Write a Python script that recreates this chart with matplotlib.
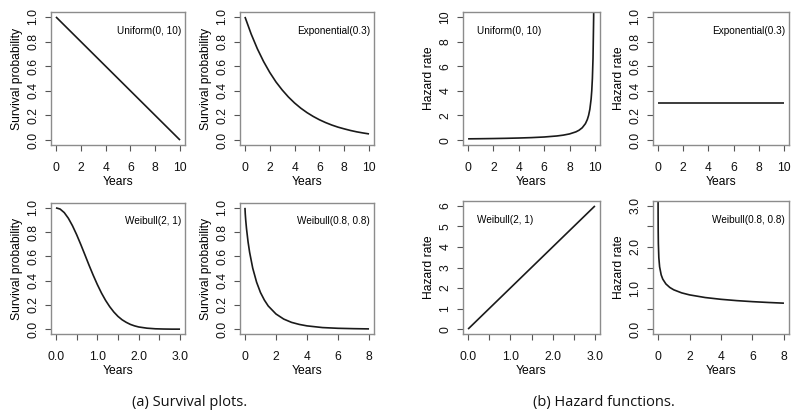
import matplotlib
matplotlib.use("Agg")
import matplotlib.pyplot as plt
import numpy as np

# ---------------- data ----------------
# Survival: Uniform(0, 10)
su_x = [0, 10]
su_y = [1.0, 0.0]
# Survival: Exponential(0.3)
se_x = [0, 0.5, 1, 1.5, 2, 2.5, 3, 3.5, 4, 4.5, 5, 5.5, 6, 6.5, 7, 7.5, 8, 8.5, 9, 9.5, 10]
se_y = [1.0, 0.861, 0.741, 0.638, 0.549, 0.472, 0.407, 0.350, 0.301, 0.259, 0.223,
        0.192, 0.165, 0.142, 0.122, 0.105, 0.091, 0.078, 0.067, 0.058, 0.050]
# Survival: Weibull(2, 1)
sw1_x = [0, 0.1, 0.2, 0.3, 0.4, 0.5, 0.6, 0.7, 0.8, 0.9, 1.0, 1.1, 1.2, 1.3, 1.4, 1.5,
         1.6, 1.7, 1.8, 1.9, 2.0, 2.2, 2.4, 2.6, 2.8, 3.0]
sw1_y = [1.0, 0.990, 0.961, 0.914, 0.852, 0.779, 0.698, 0.613, 0.527, 0.445, 0.368,
         0.298, 0.237, 0.185, 0.141, 0.105, 0.077, 0.056, 0.039, 0.027, 0.018, 0.008,
         0.003, 0.001, 0.0, 0.0]
# Survival: Weibull(0.8, 0.8)
sw2_x = [0, 0.02, 0.05, 0.1, 0.2, 0.3, 0.5, 0.75, 1.0, 1.25, 1.5, 2, 2.5, 3, 3.5, 4, 5, 6, 7, 8]
sw2_y = [1.0, 0.949, 0.897, 0.828, 0.719, 0.634, 0.503, 0.387, 0.302, 0.240, 0.191,
         0.125, 0.083, 0.056, 0.039, 0.027, 0.013, 0.007, 0.004, 0.002]

# Hazard: Uniform(0, 10)
hu_x = [0, 1, 2, 3, 4, 5, 6, 7, 7.5, 8, 8.5, 8.75, 9, 9.25, 9.4, 9.5, 9.6, 9.7, 9.75,
        9.8, 9.85, 9.9, 9.95]
hu_y = [0.1, 0.111, 0.125, 0.143, 0.167, 0.2, 0.25, 0.333, 0.4, 0.5, 0.667, 0.8, 1.0,
        1.333, 1.667, 2.0, 2.5, 3.333, 4.0, 5.0, 6.667, 10.0, 20.0]
# Hazard: Exponential(0.3)
he_x = [0, 10]
he_y = [0.3, 0.3]
# Hazard: Weibull(2, 1)
hw1_x = [0, 3]
hw1_y = [0, 6]
# Hazard: Weibull(0.8, 0.8)
hw2_x = [0.001, 0.002, 0.005, 0.01, 0.02, 0.05, 0.1, 0.2, 0.3, 0.5, 0.75, 1, 1.5, 2,
         3, 4, 5, 6, 7, 8]
hw2_y = [3.81, 3.31, 2.76, 2.40, 2.09, 1.74, 1.516, 1.320, 1.217, 1.099, 1.013, 0.956,
         0.882, 0.833, 0.768, 0.725, 0.693, 0.668, 0.648, 0.631]

labels = ["Uniform(0, 10)", "Exponential(0.3)", "Weibull(2, 1)", "Weibull(0.8, 0.8)"]
captions = ["(a) Survival plots.", "(b) Hazard functions."]

# ---------------- figure ----------------
W, H = 800, 419
fig = plt.figure(figsize=(W / 100, H / 100), dpi=100)
plt.rcParams['font.family'] = ['Liberation Sans', 'DejaVu Sans']

FRAME = '#8c8c8c'

def add_panel(l, r, t, b, x, y, xlim, ylim, xticks, xlabels, yticks, ylabels,
              ylabel, text, text_loc):
    ax = fig.add_axes([l / W, 1 - b / H, (r - l) / W, (b - t) / H])
    ax.plot(x, y, color='#1a1a1a', lw=1.2, solid_capstyle='butt')
    dx = (xlim[1] - xlim[0]) * 0.04
    dy = (ylim[1] - ylim[0]) * 0.04
    ax.set_xlim(xlim[0] - dx, xlim[1] + dx)
    ax.set_ylim(ylim[0] - dy, ylim[1] + dy)
    for s in ax.spines.values():
        s.set_color(FRAME)
        s.set_linewidth(1.0)
    ax.set_xticks(xticks)
    ax.set_xticklabels(xlabels, fontsize=8.7, color='#111111')
    ax.set_yticks(yticks)
    ax.set_yticklabels(ylabels, fontsize=8.7, color='#111111', rotation=90, va='center')
    ax.tick_params(axis='both', direction='out', length=4, width=0.8, color='#555555')
    ax.tick_params(axis='x', pad=8.5)
    ax.tick_params(axis='y', pad=4.5)
    ax.set_xlabel("Years", fontsize=8.7, labelpad=1)
    ax.set_ylabel(ylabel, fontsize=8.7, labelpad=3)
    if text_loc == 'right':
        ax.text(0.97, 0.86, text, transform=ax.transAxes, ha='right', va='center',
                fontsize=7.2)
    else:
        ax.text(0.1, 0.86, text, transform=ax.transAxes, ha='left', va='center',
                fontsize=7.2)
    return ax

t10 = [0, 2, 4, 6, 8, 10]
t10l = [str(v) for v in t10]
t3 = [0, 0.5, 1, 1.5, 2, 2.5, 3]
t3l = ['0.0', '', '1.0', '', '2.0', '', '3.0']
t8 = [0, 2, 4, 6, 8]
t8l = [str(v) for v in t8]
p1 = [0, 0.2, 0.4, 0.6, 0.8, 1.0]
p1l = ['%.1f' % v for v in p1]

# Survival plots
add_panel(51, 185, 12, 145, su_x, su_y, (0, 10), (0, 1), t10, t10l, p1, p1l,
          "Survival probability", labels[0], 'right')
add_panel(240, 374, 12, 145, se_x, se_y, (0, 10), (0, 1), t10, t10l, p1, p1l,
          "Survival probability", labels[1], 'right')
add_panel(51, 185, 203, 334, sw1_x, sw1_y, (0, 3), (0, 1), t3, t3l, p1, p1l,
          "Survival probability", labels[2], 'right')
add_panel(240, 374, 203, 334, sw2_x, sw2_y, (0, 8), (0, 1), t8, t8l, p1, p1l,
          "Survival probability", labels[3], 'right')

# Hazard functions
add_panel(463, 600, 12, 145, hu_x, hu_y, (0, 10), (0, 10), t10, t10l, t10, t10l,
          "Hazard rate", labels[0], 'left')
add_panel(653, 789, 12, 145, he_x, he_y, (0, 10), (0, 1), t10, t10l, p1, p1l,
          "Hazard rate", labels[1], 'right')
add_panel(463, 600, 201, 334, hw1_x, hw1_y, (0, 3), (0, 6), t3, t3l,
          [0, 1, 2, 3, 4, 5, 6], ['0', '1', '2', '3', '4', '5', '6'],
          "Hazard rate", labels[2], 'left')
add_panel(653, 789, 201, 334, hw2_x, hw2_y, (0, 8), (0, 3), t8, t8l,
          [0, 0.5, 1, 1.5, 2, 2.5, 3], ['0.0', '', '1.0', '', '2.0', '', '3.0'],
          "Hazard rate", labels[3], 'right')

fig.text(190 / W, 1 - 402 / H, captions[0], ha='center', va='center', fontsize=10.5,
         family=['Open Sans', 'DejaVu Sans'], color='#111111')
fig.text(604 / W, 1 - 402 / H, captions[1], ha='center', va='center', fontsize=10.5,
         family=['Open Sans', 'DejaVu Sans'], color='#111111')

fig.savefig("out.png", dpi=100)
